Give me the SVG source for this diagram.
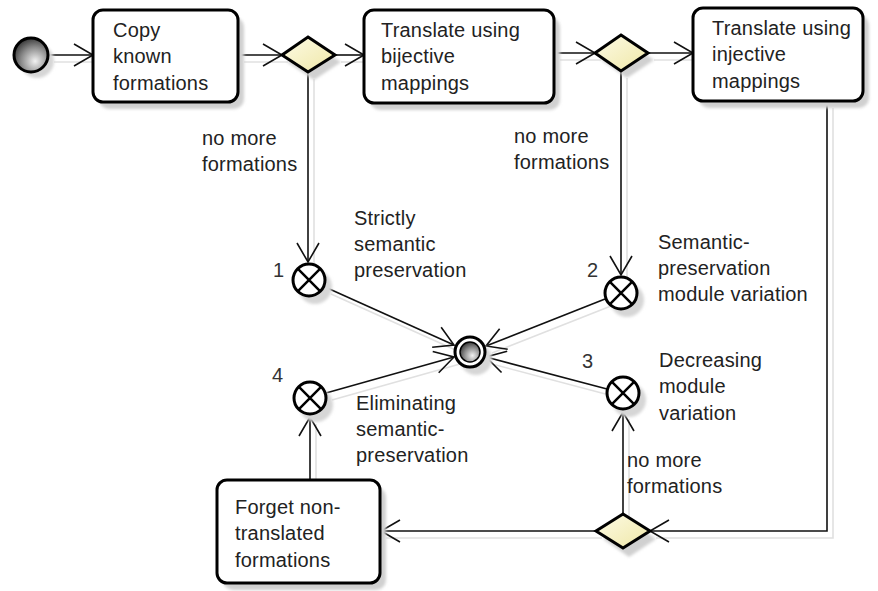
<svg xmlns="http://www.w3.org/2000/svg" width="878" height="591" viewBox="0 0 878 591">
<defs>
<style>
text{font-family:"Liberation Sans",Arial,sans-serif;font-size:20px;fill:#222;letter-spacing:0.2px}
.lbl{font-size:20px}
.num{fill:#333}
.box{fill:#fff;stroke:#000;stroke-width:3}
.shadow{fill:#d0d0d0;stroke:none}
.dia{fill:url(#dg);stroke:#000;stroke-width:3}
.xn{fill:#fff;stroke:#000;stroke-width:3}
.xl{stroke:#000;stroke-width:2.5}
.con{fill:none;stroke:#111;stroke-width:1.6;marker-end:url(#arr)}
.csh{fill:none;stroke:#e0e0e0;stroke-width:1.6}
</style>
<marker id="arr" markerUnits="userSpaceOnUse" markerWidth="24" markerHeight="26" refX="0" refY="0" viewBox="-21 -13 23 26" orient="auto" overflow="visible">
<path d="M-19,-11 L0,0 L-19,11" fill="none" stroke="#111" stroke-width="1.6"/>
</marker>
<linearGradient id="dg" x1="0" y1="0" x2="1" y2="1">
<stop offset="0" stop-color="#fdfbe6"/>
<stop offset="1" stop-color="#efe7a6"/>
</linearGradient>
<radialGradient id="bg" cx="0.62" cy="0.68" r="0.75">
<stop offset="0" stop-color="#f2f2f2"/>
<stop offset="0.55" stop-color="#8a8a8a"/>
<stop offset="1" stop-color="#2a2a2a"/>
</radialGradient>
<filter id="blur" x="-20%" y="-20%" width="140%" height="140%">
<feGaussianBlur stdDeviation="1.5"/>
</filter>
</defs>
<rect width="878" height="591" fill="#fff"/>

<g id="connector-shadows" transform="translate(6,7)">
<path class="csh" d="M48,55 H93"/>
<path class="csh" d="M238,55 H282"/>
<path class="csh" d="M335,55 H364"/>
<path class="csh" d="M554,53 H595"/>
<path class="csh" d="M648,53 H693"/>
<path class="csh" d="M308,72 V262"/>
<path class="csh" d="M621,71 V275"/>
<path class="csh" d="M827,101 V531 H650"/>
<path class="csh" d="M596,531 H380"/>
<path class="csh" d="M623,514 V412"/>
<path class="csh" d="M310,480 V417"/>
<path class="csh" d="M325,287 L454,345"/>
<path class="csh" d="M605,299 L486,346"/>
<path class="csh" d="M607,389 L486,357"/>
<path class="csh" d="M326,393 L454,357"/>
</g>

<g id="connectors">
<path class="con" d="M48,55 H93"/>
<path class="con" d="M238,55 H282"/>
<path class="con" d="M335,55 H364"/>
<path class="con" d="M554,53 H595"/>
<path class="con" d="M648,53 H693"/>
<path class="con" d="M308,72 V262"/>
<path class="con" d="M621,71 V275"/>
<path class="con" d="M827,101 V531 H650"/>
<path class="con" d="M596,531 H381"/>
<path class="con" d="M623,514 V412"/>
<path class="con" d="M310,480 V417"/>
<path class="con" d="M325,287 L454,345"/>
<path class="con" d="M605,299 L486,346"/>
<path class="con" d="M607,389 L486,357"/>
<path class="con" d="M326,393 L454,357"/>
<text class="lbl" x="202" y="145">no more</text>
<text class="lbl" x="202" y="171">formations</text>
<text class="lbl" x="514" y="143">no more</text>
<text class="lbl" x="514" y="169">formations</text>
<text class="lbl" x="627" y="467">no more</text>
<text class="lbl" x="627" y="493">formations</text>
</g>

<g id="start">
<circle cx="37" cy="61" r="17" fill="#d6d6d6" filter="url(#blur)"/>
<circle cx="31" cy="55" r="17" fill="url(#bg)" stroke="#000" stroke-width="3"/>
</g>

<g id="copy-known">
<rect class="shadow" x="99" y="17" width="145" height="92" rx="10" filter="url(#blur)"/>
<rect class="box" x="93" y="10" width="145" height="92" rx="10"/>
<text x="113" y="37">Copy</text>
<text x="113" y="63">known</text>
<text x="113" y="90">formations</text>
</g>

<g id="decision1">
<polygon class="shadow" points="314,44 341,62 314,80 287,62" filter="url(#blur)"/>
<polygon class="dia" points="308,37 335,55 308,72 282,55"/>
</g>

<g id="translate-bijective">
<rect class="shadow" x="370" y="17" width="190" height="93" rx="10" filter="url(#blur)"/>
<rect class="box" x="364" y="10" width="190" height="93" rx="10"/>
<text x="381" y="37">Translate using</text>
<text x="381" y="63">bijective</text>
<text x="381" y="90">mappings</text>
</g>

<g id="decision2">
<polygon class="shadow" points="627,42 654,60 627,78 601,60" filter="url(#blur)"/>
<polygon class="dia" points="621,35 648,53 621,71 595,53"/>
</g>

<g id="translate-injective">
<rect class="shadow" x="699" y="15" width="170" height="93" rx="10" filter="url(#blur)"/>
<rect class="box" x="693" y="8" width="170" height="93" rx="10"/>
<text x="712" y="35">Translate using</text>
<text x="712" y="61">injective</text>
<text x="712" y="88">mappings</text>
</g>

<g id="end-1">
<circle cx="315" cy="287" r="17" fill="#d6d6d6" filter="url(#blur)"/>
<circle class="xn" cx="309" cy="280" r="16"/>
<path class="xl" d="M297.7,268.7 L320.3,291.3 M320.3,268.7 L297.7,291.3"/>
<text class="num" x="273" y="277">1</text>
<text x="354" y="225">Strictly</text>
<text x="354" y="251">semantic</text>
<text x="354" y="277">preservation</text>
</g>

<g id="end-2">
<circle cx="627" cy="300" r="17" fill="#d6d6d6" filter="url(#blur)"/>
<circle class="xn" cx="621" cy="293" r="16"/>
<path class="xl" d="M609.7,281.7 L632.3,304.3 M632.3,281.7 L609.7,304.3"/>
<text class="num" x="587" y="277">2</text>
<text x="658" y="249">Semantic-</text>
<text x="658" y="275">preservation</text>
<text x="658" y="301">module variation</text>
</g>

<g id="final">
<circle cx="476" cy="359" r="16" fill="#d6d6d6" filter="url(#blur)"/>
<circle cx="470" cy="352" r="15" fill="#fff" stroke="#000" stroke-width="3"/>
<circle cx="470" cy="352" r="10" fill="url(#bg)" stroke="#000" stroke-width="1.5"/>
</g>

<g id="end-3">
<circle cx="629" cy="400" r="17" fill="#d6d6d6" filter="url(#blur)"/>
<circle class="xn" cx="623" cy="393" r="16"/>
<path class="xl" d="M611.7,381.7 L634.3,404.3 M634.3,381.7 L611.7,404.3"/>
<text class="num" x="582" y="368">3</text>
<text x="659" y="367">Decreasing</text>
<text x="659" y="393">module</text>
<text x="659" y="420">variation</text>
</g>

<g id="end-4">
<circle cx="316" cy="405" r="17" fill="#d6d6d6" filter="url(#blur)"/>
<circle class="xn" cx="310" cy="398" r="16"/>
<path class="xl" d="M298.7,386.7 L321.3,409.3 M321.3,386.7 L298.7,409.3"/>
<text class="num" x="272" y="382">4</text>
<text x="356" y="410">Eliminating</text>
<text x="356" y="436">semantic-</text>
<text x="356" y="462">preservation</text>
</g>

<g id="decision3">
<polygon class="shadow" points="629,521 656,539 629,557 603,539" filter="url(#blur)"/>
<polygon class="dia" points="623,514 650,531 623,548 596,531"/>
</g>

<g id="forget">
<rect class="shadow" x="223" y="487" width="163" height="103" rx="10" filter="url(#blur)"/>
<rect class="box" x="217" y="480" width="163" height="103" rx="10"/>
<text x="235" y="514">Forget non-</text>
<text x="235" y="540">translated</text>
<text x="235" y="567">formations</text>
</g>
</svg>
